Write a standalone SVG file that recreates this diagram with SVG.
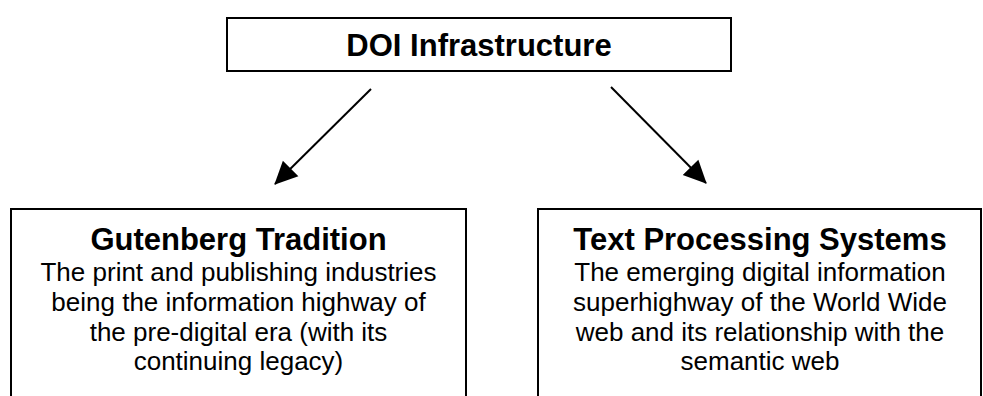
<svg xmlns="http://www.w3.org/2000/svg" width="983" height="396" viewBox="0 0 983 396">
  <style>
    .box { fill: #ffffff; stroke: #000000; stroke-width: 2; }
    .title { font-family: "Liberation Sans", Arial, sans-serif; font-weight: bold; font-size: 31px; fill: #000000; text-anchor: middle; }
    .body { font-family: "Liberation Sans", Arial, sans-serif; font-size: 26px; fill: #000000; text-anchor: middle; }
    .link { stroke: #000000; stroke-width: 2; fill: none; }
  </style>
  <defs>
    <marker id="arrowhead" markerUnits="userSpaceOnUse" markerWidth="24" markerHeight="24" viewBox="0 0 24 24" refX="22" refY="12" orient="auto">
      <path d="M0,1 L23,12 L0,23 Z" fill="#000000"/>
    </marker>
  </defs>
  <rect width="983" height="396" fill="#ffffff"/>

  <g id="doi-infrastructure">
    <rect class="box" x="227" y="18" width="504" height="53"/>
    <text class="title" x="479" y="56">DOI Infrastructure</text>
  </g>

  <g id="gutenberg-tradition">
    <rect class="box" x="11" y="209" width="455" height="200"/>
    <text class="title" x="238.5" y="250">Gutenberg Tradition</text>
    <text class="body" x="238.5" y="281">The print and publishing industries</text>
    <text class="body" x="238.5" y="311">being the information highway of</text>
    <text class="body" x="238.5" y="341">the pre-digital era (with its</text>
    <text class="body" x="238.5" y="370">continuing legacy)</text>
  </g>

  <g id="text-processing-systems">
    <rect class="box" x="538" y="209" width="443" height="200"/>
    <text class="title" x="760" y="250">Text Processing Systems</text>
    <text class="body" x="760" y="281">The emerging digital information</text>
    <text class="body" x="760" y="311">superhighway of the World Wide</text>
    <text class="body" x="760" y="341">web and its relationship with the</text>
    <text class="body" x="760" y="370">semantic web</text>
  </g>

  <g id="connectors">
    <line class="link" x1="371" y1="89" x2="275" y2="184" marker-end="url(#arrowhead)"/>
    <line class="link" x1="611" y1="87" x2="706" y2="183" marker-end="url(#arrowhead)"/>
  </g>
</svg>
